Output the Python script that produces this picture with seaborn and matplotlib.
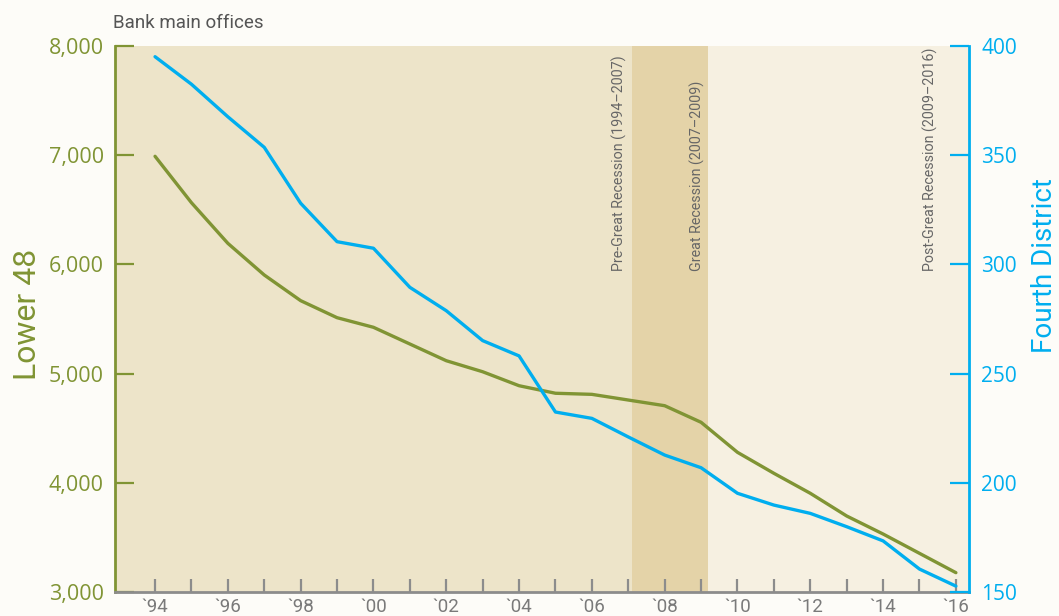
import matplotlib
matplotlib.use('Agg')

import matplotlib.pyplot as plt
import seaborn as sns
import pandas as pd

# data
years = list(range(1994, 2017))
lower_48 = [6990, 6565, 6193, 5903, 5668, 5512, 5424, 5271, 5118, 5017, 4889, 4820,
            4810, 4758, 4706, 4554, 4279, 4087, 3904, 3696, 3531, 3354, 3177]
fourth_district = [395.1, 382.5, 367.6, 353.6, 328.0, 310.4, 307.4, 289.5, 278.8, 265.1,
                   258.1, 232.4, 229.5, 221.0, 212.7, 206.9, 195.2, 189.8, 186.0, 179.9,
                   173.4, 160.5, 152.7]

period_labels = ['Pre-Great Recession (1994\u20132007)',
                 'Great Recession (2007\u20132009)',
                 'Post-Great Recession (2009\u20132016)']
period_starts = [1992.9, 2007.1, 2009.2]
period_ends = [2007.1, 2009.2, 2016.36]
period_colors = ['#ede4c9', '#e4d3a8', '#f6f0e1']
period_text_x = [2006.75, 2008.9, 2015.3]

xtick_years = list(range(1994, 2017, 2))
xtick_labels = ['`94', '`96', '`98', '`00', '`02', '`04', '`06', '`08', '`10', '`12', '`14', '`16']
left_ticks = [3000, 4000, 5000, 6000, 7000, 8000]
right_ticks = [150, 200, 250, 300, 350, 400]

GREEN = '#809434'
BLUE = '#00aeef'
GRAY = '#8c8c8c'
NARROW = ['Roboto', 'DejaVu Sans']

df = pd.DataFrame({'year': years, 'lower_48': lower_48, 'fourth': fourth_district})

sns.set_style('white')
plt.rcParams['font.family'] = ['Open Sans', 'DejaVu Sans']

fig = plt.figure(figsize=(10.59, 6.16), dpi=100, facecolor='#fdfcf8')
ax = fig.add_axes([115 / 1059, 1 - 592 / 616, 854 / 1059, 546 / 616])

# shaded periods
for start, end, col in zip(period_starts, period_ends, period_colors):
    ax.axvspan(start, end, color=col, lw=0, zorder=0)

sns.lineplot(data=df, x='year', y='lower_48', ax=ax, color=GREEN, linewidth=2.4)
ax.set_xlim(1992.9, 2016.36)
ax.set_ylim(3000, 8000)
ax.set_yticks(left_ticks)
ax.set_yticklabels([f'{v:,}' for v in left_ticks])
ax.set_xticks(xtick_years)
ax.set_xticklabels(xtick_labels, family=NARROW)
ax.set_xticks([y for y in years if y % 2 == 1], minor=True)
ax.set_xlabel('')
ax.set_ylabel('')

ax2 = ax.twinx()
sns.lineplot(data=df, x='year', y='fourth', ax=ax2, color=BLUE, linewidth=2.4)
ax2.set_ylim(150, 400)
ax2.set_yticks(right_ticks)
ax2.set_ylabel('')

# spines
for s in ['top', 'right']:
    ax.spines[s].set_visible(False)
for s in ['top', 'left', 'bottom']:
    ax2.spines[s].set_visible(False)
ax.spines['left'].set_color(GREEN)
ax.spines['left'].set_linewidth(2)
ax.spines['bottom'].set_color(GRAY)
ax.spines['bottom'].set_linewidth(2)
ax2.spines['right'].set_color(BLUE)
ax2.spines['right'].set_linewidth(2)

ax.tick_params(axis='y', direction='in', length=14, width=1.6, color=GREEN,
               labelcolor=GREEN, labelsize=15.5, pad=8, left=True)
ax2.tick_params(axis='y', direction='in', length=14, width=1.6, color=BLUE,
                labelcolor=BLUE, labelsize=15, pad=9, right=True)
ax.tick_params(axis='x', which='both', direction='in', length=9.5, width=1.6,
               color=GRAY, labelcolor='#7a7a7a', labelsize=13.5, pad=4, bottom=True)

for label, tx in zip(period_labels, period_text_x):
    ax.text(tx, 0.588, label, transform=ax.get_xaxis_transform(), rotation=90,
            ha='center', va='bottom', fontsize=10.3, color='#666666', family=NARROW)

fig.text(27.5 / 1059, 1 - 314 / 616, 'Lower 48', rotation=90, ha='center', va='center',
         fontsize=23, color=GREEN, family=NARROW)
fig.text(1044 / 1059, 1 - 266 / 616, 'Fourth District', rotation=90, ha='center', va='center',
         fontsize=20, color=BLUE, family=NARROW)
fig.text(113 / 1059, 1 - 28 / 616, 'Bank main offices', ha='left', va='baseline',
         fontsize=13.5, color='#555555', family=NARROW)

fig.savefig('out.png', dpi=100, facecolor=fig.get_facecolor())
